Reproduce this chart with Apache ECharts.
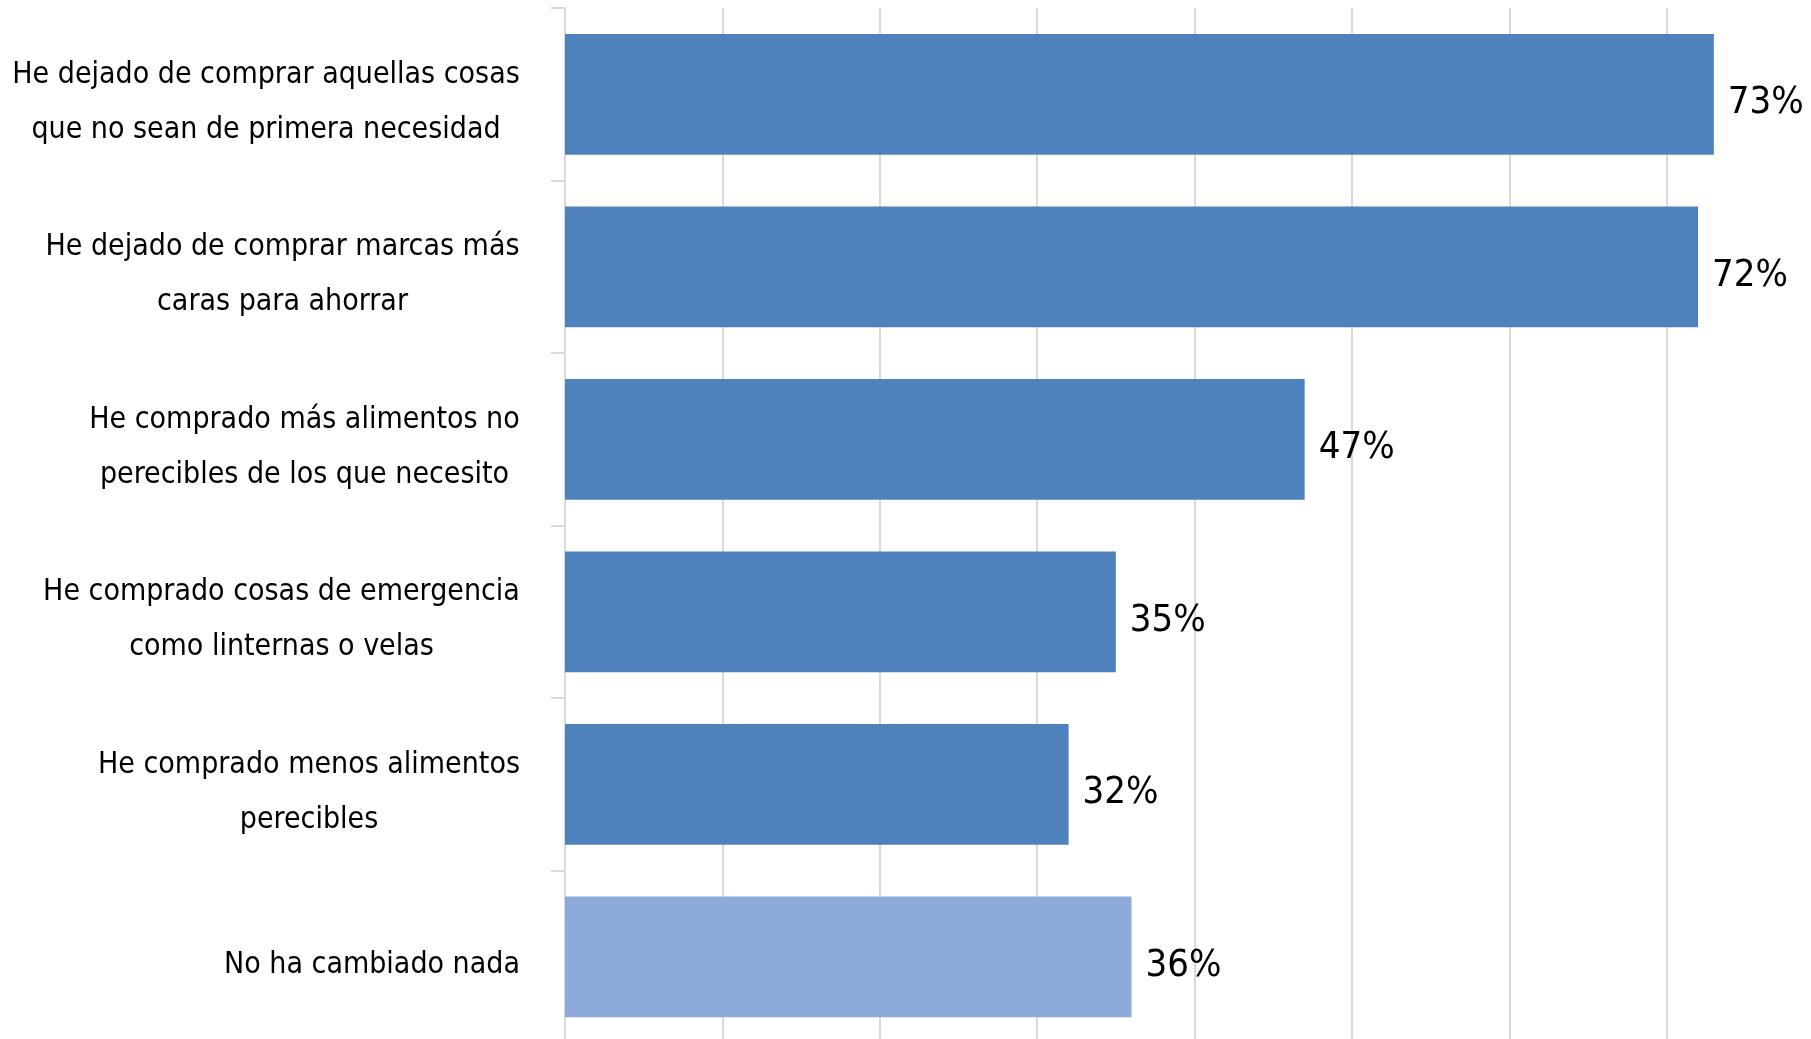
<!DOCTYPE html>
<html>
<head>
<meta charset="utf-8">
<script src="https://cdn.jsdelivr.net/npm/echarts@6/dist/echarts.min.js"></script>
<style>
html,body{margin:0;padding:0;background:#fff;}
#chart{width:1811px;height:1039px;}
</style>
</head>
<body>
<div id="chart"></div>
<script>
const categories = [
  "He dejado de comprar aquellas cosas\nque no sean de primera necesidad",
  "He dejado de comprar marcas más\ncaras para ahorrar",
  "He comprado más alimentos no\nperecibles de los que necesito",
  "He comprado cosas de emergencia\ncomo linternas o velas",
  "He comprado menos alimentos\nperecibles",
  "No ha cambiado nada"
];
const values = [73, 72, 47, 35, 32, 36];
const xTicks = [0, 10, 20, 30, 40, 50, 60, 70, 80];

const FONT = "'DejaVu Sans Condensed', 'Liberation Sans Narrow', sans-serif";
const CAT_SIZE = 30;
const VAL_SIZE = 38;
const DARK = '#4F81BD';
const LIGHT = '#8EAADB';

const ctx = document.createElement('canvas').getContext('2d');
ctx.font = CAT_SIZE + 'px ' + FONT;
const rich = {};
categories.forEach((c, i) => {
  const w = Math.max(...c.split('\n').map(l => ctx.measureText(l).width));
  rich['c' + i] = {width: Math.ceil(w), align: 'center', fontSize: CAT_SIZE, fontFamily: FONT, color: '#000', lineHeight: 55};
});

const chart = echarts.init(document.getElementById('chart'), null, {renderer: 'canvas'});
chart.setOption({
  animation: false,
  backgroundColor: '#fff',
  grid: {left: 565, top: 8, width: 1259, height: 1035, containLabel: false, outerBoundsMode: 'none'},
  xAxis: {
    type: 'value', min: xTicks[0], max: xTicks[xTicks.length - 1], interval: 10,
    axisLabel: {show: false}, axisLine: {show: false}, axisTick: {show: false},
    splitLine: {show: true, lineStyle: {color: '#D9D9D9', width: 2}}
  },
  yAxis: {
    type: 'category', data: categories, inverse: true,
    axisLine: {show: true, lineStyle: {color: '#D9D9D9', width: 2}},
    axisTick: {show: true, length: 14, lineStyle: {color: '#D9D9D9', width: 2}},
    axisLabel: {
      margin: 45, align: 'right', padding: [16, 0, 0, 0],
      formatter: (v, idx) => v.split('\n').map(l => '{c' + idx + '|' + l + '}').join('\n'),
      rich: rich
    }
  },
  series: [{
    type: 'bar', data: values, barCategoryGap: '30%',
    itemStyle: {color: p => p.dataIndex === values.length - 1 ? LIGHT : DARK},
    label: {
      show: true, position: 'right', distance: 14,
      formatter: p => p.value + '%',
      fontFamily: FONT, fontSize: VAL_SIZE, color: '#000', offset: [0, 9]
    }
  }]
});
</script>
</body>
</html>
